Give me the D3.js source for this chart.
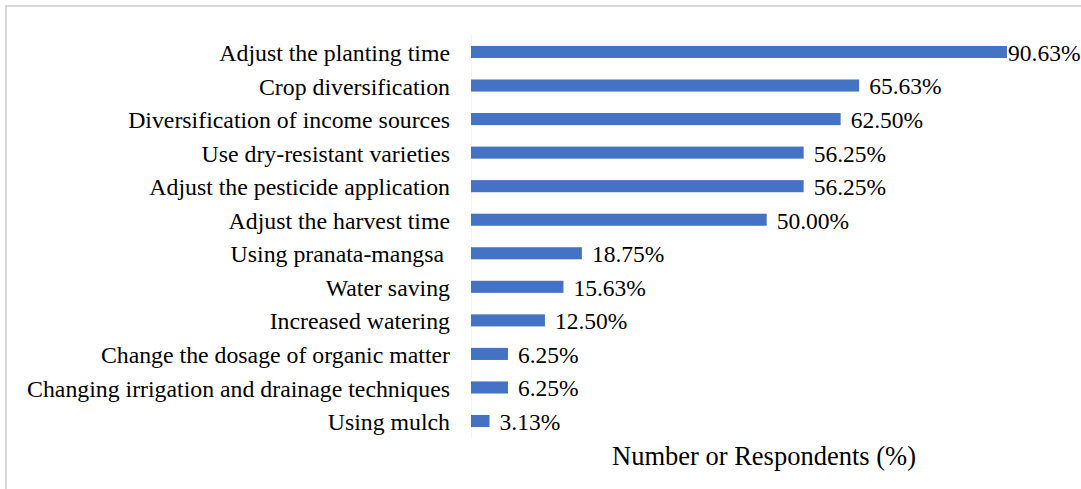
<!DOCTYPE html>
<html><head><meta charset="utf-8">
<script src="https://cdn.jsdelivr.net/npm/d3@7"></script>
<style>body{margin:0;background:#fff}svg{display:block}</style>
</head><body><svg id="c" width="1081" height="489"></svg>
<script>
const categories = ["Adjust the planting time","Crop diversification","Diversification of income sources","Use dry-resistant varieties","Adjust the pesticide application","Adjust the harvest time","Using pranata-mangsa\u00a0","Water saving","Increased watering","Change the dosage of organic matter","Changing irrigation and drainage techniques","Using mulch"];
const values = [90.63,65.63,62.50,56.25,56.25,50.00,18.75,15.63,12.50,6.25,6.25,3.13];
const axisTitle = "Number or Respondents (%)";

const FONT = '"Liberation Serif"';
const svg = d3.select("#c");
svg.append("rect").attr("x",6).attr("y",6).attr("width",1200).attr("height",600)
  .attr("fill","#fff").attr("stroke","#d9d9d9").attr("stroke-width",2);

const x = d3.scaleLinear().domain([0,100]).range([471,1062.4]);
const y = d3.scaleBand().domain(categories).range([35.2,437.8]).paddingInner(0.64).paddingOuter(0.32);

svg.append("line").attr("x1",471.5).attr("x2",471.5).attr("y1",35).attr("y2",438)
  .attr("stroke","#f2f2f2").attr("stroke-width",1);

svg.selectAll("rect.bar").data(values).enter().append("rect").attr("class","bar")
  .attr("x",x(0)).attr("y",(d,i)=>y(categories[i]))
  .attr("width",d=>x(d)-x(0)).attr("height",y.bandwidth()).attr("fill","#4472C4");

svg.selectAll("text.cat").data(categories).enter().append("text").attr("class","cat")
  .attr("x",450).attr("y",d=>y(d)+y.bandwidth()/2).attr("dy","0.38em")
  .attr("text-anchor","end").style("font-family",FONT).style("font-size","23.8px").attr("fill","#000")
  .text(d=>d);

svg.selectAll("text.val").data(values).enter().append("text").attr("class","val")
  .attr("x",d=>Math.min(x(d)+10, 1008)).attr("y",(d,i)=>y(categories[i])+y.bandwidth()/2).attr("dy","0.38em")
  .style("font-family",FONT).style("font-size","23.5px").attr("fill","#000")
  .text(d=>d.toFixed(2)+"%");

svg.append("text").attr("x",764).attr("y",465).attr("text-anchor","middle")
  .style("font-family",FONT).style("font-size","26.5px").attr("fill","#000").text(axisTitle);
</script></body></html>
